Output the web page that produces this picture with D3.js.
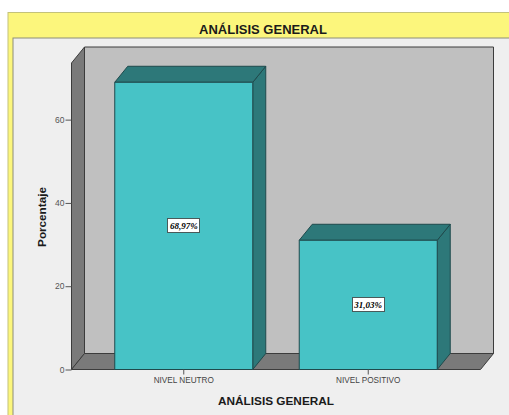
<!DOCTYPE html>
<html>
<head>
<meta charset="utf-8">
<script src="https://cdn.jsdelivr.net/npm/d3@7"></script>
<style>
  html, body { margin: 0; padding: 0; background: #fff; overflow: hidden; }
  svg { display: block; }
  text { font-family: "Liberation Sans", Arial, sans-serif; }
</style>
</head>
<body>
<div id="plot"></div>
<script>
var categories = ['NIVEL NEUTRO', 'NIVEL POSITIVO']
var percentages = [68.97, 31.03]
var valueLabels = ['68,97%', '31,03%']
var yTicks = [0, 20, 40, 60]

var width = 509
var height = 415
var plot = { left: 71.5, right: 480.5, top: 63, bottom: 369.5 }
// offset of the back of the 3D box from its front face
var depth = { x: 13, y: -16 }

var xScale = d3
  .scaleBand()
  .domain(categories)
  .range([plot.left, plot.right])
  .paddingInner(0.252)
  .paddingOuter(0.2345)

var yScale = d3
  .scaleLinear()
  .domain([0, 73.6])
  .range([plot.bottom, plot.top])

var svg = d3
  .select('#plot')
  .append('svg')
  .attr('width', width)
  .attr('height', height)

function poly(points, fill, stroke) {
  return svg
    .append('polygon')
    .attr('points', points.map(function(p) { return p.join(',') }).join(' '))
    .attr('fill', fill)
    .attr('stroke', stroke)
    .attr('stroke-width', 1)
    .attr('stroke-linejoin', 'round')
}

// outer frame, title strip and inner panel
svg.append('rect')
  .attr('x', 8).attr('y', 12.5)
  .attr('width', width).attr('height', height)
  .attr('fill', '#fcf67c')
  .attr('stroke', '#c4c27a')

svg.append('rect')
  .attr('x', 13).attr('y', 38)
  .attr('width', width).attr('height', height)
  .attr('fill', '#efefef')
  .attr('stroke', '#8e8e78')

svg.append('text')
  .attr('x', 263).attr('y', 34)
  .attr('text-anchor', 'middle')
  .attr('font-size', 13)
  .attr('font-weight', 'bold')
  .attr('fill', '#1a1a1a')
  .text('ANÁLISIS GENERAL')

// walls of the box
var wallStroke = '#3c3c3c'
poly([
  [plot.left + depth.x, plot.top + depth.y],
  [plot.right + depth.x, plot.top + depth.y],
  [plot.right + depth.x, plot.bottom + depth.y],
  [plot.left + depth.x, plot.bottom + depth.y]
], '#c0c0c0', wallStroke)

poly([
  [plot.left, plot.top],
  [plot.left + depth.x, plot.top + depth.y],
  [plot.left + depth.x, plot.bottom + depth.y],
  [plot.left, plot.bottom]
], '#7a7a7a', wallStroke)

poly([
  [plot.left, plot.bottom],
  [plot.left + depth.x, plot.bottom + depth.y],
  [plot.right + depth.x, plot.bottom + depth.y],
  [plot.right, plot.bottom]
], '#7a7a7a', wallStroke)

// bars: side and top faces first, then the front
var barStroke = '#1f4a4c'
percentages.forEach(function(value, i) {
  var x0 = xScale(categories[i])
  var x1 = x0 + xScale.bandwidth()
  var y0 = yScale(value)
  var y1 = yScale(0)

  poly([
    [x1, y0],
    [x1 + depth.x, y0 + depth.y],
    [x1 + depth.x, y1 + depth.y],
    [x1, y1]
  ], '#2d7879', barStroke)

  poly([
    [x0, y0],
    [x0 + depth.x, y0 + depth.y],
    [x1 + depth.x, y0 + depth.y],
    [x1, y0]
  ], '#2d7879', barStroke)

  poly([
    [x0, y0],
    [x1, y0],
    [x1, y1],
    [x0, y1]
  ], '#47c3c6', barStroke)

  // value label box centred on the front face
  var cx = (x0 + x1) / 2
  var cy = (y0 + y1) / 2
  svg.append('rect')
    .attr('x', Math.round(cx - 16.5) + 0.5).attr('y', Math.round(cy - 7.5) + 0.5)
    .attr('width', 32).attr('height', 14)
    .attr('fill', '#fff')
    .attr('stroke', '#4a5a5a')

  svg.append('text')
    .attr('x', cx).attr('y', cy + 3)
    .attr('text-anchor', 'middle')
    .attr('font-size', 9)
    .attr('font-weight', 'bold')
    .attr('font-style', 'italic')
    .style('font-family', '"Liberation Serif", serif')
    .attr('fill', '#000')
    .text(valueLabels[i])
})

// axes
var yAxis = d3.axisLeft(yScale).tickValues(yTicks).tickSize(6).tickPadding(1)
var xAxis = d3.axisBottom(xScale).tickSize(5).tickPadding(3)

var yG = svg.append('g')
  .attr('transform', 'translate(' + plot.left + ',0)')
  .call(yAxis)
yG.select('.domain').remove()
yG.selectAll('line').attr('stroke', '#555')
yG.selectAll('text')
  .attr('font-size', 8.5)
  .style('font-family', '"Liberation Sans", sans-serif')
  .attr('fill', '#555')

var xG = svg.append('g')
  .attr('transform', 'translate(0,' + plot.bottom + ')')
  .call(xAxis)
xG.select('.domain').remove()
xG.selectAll('line').attr('stroke', '#555')
xG.selectAll('text')
  .attr('font-size', 8.2)
  .style('font-family', '"Liberation Sans", sans-serif')
  .attr('fill', '#444')

svg.append('text')
  .attr('x', 276).attr('y', 405)
  .attr('text-anchor', 'middle')
  .attr('font-size', 11.8)
  .attr('font-weight', 'bold')
  .attr('fill', '#1a1a1a')
  .text('ANÁLISIS GENERAL')

svg.append('text')
  .attr('transform', 'translate(46,217) rotate(-90)')
  .attr('text-anchor', 'middle')
  .attr('font-size', 11.7)
  .attr('font-weight', 'bold')
  .attr('fill', '#1a1a1a')
  .text('Porcentaje')
</script>
</body>
</html>
